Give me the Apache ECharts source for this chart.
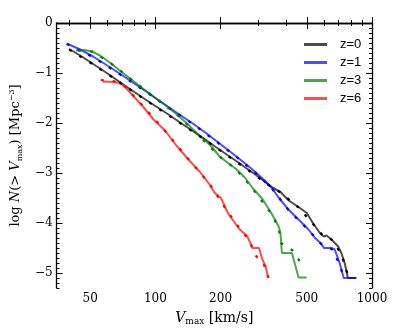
<!DOCTYPE html>
<html>
<head>
<meta charset="utf-8">
<script src="https://cdn.jsdelivr.net/npm/echarts@6/dist/echarts.min.js"></script>
<style>
html, body { margin: 0; padding: 0; background: #fff; }
#chart { width: 413px; height: 332px; }
</style>
</head>
<body>
<div id="chart"></div>
<script>
// Vmax [km/s] and log N(>Vmax)
var z0V = [40, 45, 50, 56, 63, 70, 80, 90, 100, 115, 130, 150, 170, 190, 215, 240, 270, 300, 330, 350, 378, 413, 458, 500, 537, 575, 600, 617, 650, 698, 722, 748, 774, 846]
var z0N = [-0.52, -0.65, -0.78, -0.92, -1.07, -1.21, -1.38, -1.53, -1.66, -1.83, -1.99, -2.17, -2.33, -2.48, -2.64, -2.78, -2.94, -3.08, -3.22, -3.3, -3.38, -3.55, -3.68, -3.8, -4.02, -4.2, -4.27, -4.25, -4.33, -4.47, -4.6, -4.8, -5.1, -5.1]
var z1V = [39, 45, 52, 60, 70, 80, 90, 100, 115, 130, 150, 170, 190, 215, 240, 270, 300, 330, 345, 372, 413, 458, 509, 546, 585, 600, 650, 673, 709, 740, 846]
var z1N = [-0.41, -0.53, -0.68, -0.85, -1.04, -1.21, -1.36, -1.5, -1.68, -1.84, -2.02, -2.19, -2.35, -2.53, -2.69, -2.87, -3.04, -3.21, -3.3, -3.5, -3.74, -3.93, -4.13, -4.3, -4.42, -4.5, -4.5, -4.53, -4.8, -5.1, -5.1]
var z3V = [43, 47, 51, 56, 62, 68, 75, 85, 98, 110, 125, 140, 155, 172, 184, 198, 215, 236, 260, 281, 312, 346, 371, 378, 384, 427, 458, 500]
var z3N = [-0.55, -0.54, -0.57, -0.66, -0.8, -0.94, -1.08, -1.27, -1.47, -1.63, -1.82, -2.01, -2.2, -2.37, -2.5, -2.67, -2.79, -2.92, -3.1, -3.3, -3.52, -3.83, -4.07, -4.2, -4.6, -4.6, -5.09, -5.09]
var z6V = [57, 64, 68, 72, 78, 88, 98, 109, 113, 125, 142, 160, 178, 188, 201, 216, 227, 244, 266, 281, 301, 312, 323, 332]
var z6N = [-1.17, -1.18, -1.2, -1.27, -1.43, -1.68, -1.93, -2.12, -2.2, -2.45, -2.73, -2.97, -3.23, -3.4, -3.5, -3.8, -3.93, -4.12, -4.27, -4.5, -4.5, -4.73, -4.87, -5.1]

// second (dashed) run of each redshift
var z0dV = [40, 50, 63, 80, 100, 130, 170, 215, 270, 330, 378, 458, 537, 600, 650, 722, 774]
var z0dN = [-0.53, -0.79, -1.08, -1.39, -1.67, -2.0, -2.34, -2.65, -2.95, -3.23, -3.39, -3.69, -4.03, -4.28, -4.33, -4.62, -5.05]
var z1dV = [39, 52, 70, 90, 115, 150, 190, 240, 300, 345, 413, 509, 585, 650, 709, 735]
var z1dN = [-0.42, -0.69, -1.05, -1.37, -1.69, -2.03, -2.36, -2.7, -3.05, -3.31, -3.75, -4.14, -4.43, -4.52, -4.82, -5.05]
var z3dV = [44, 51, 62, 75, 98, 125, 155, 198, 236, 281, 346, 371, 380, 430, 470, 482]
var z3dN = [-0.55, -0.57, -0.8, -1.08, -1.47, -1.82, -2.21, -2.67, -2.93, -3.31, -3.84, -4.1, -4.4, -4.55, -4.8, -4.92]
var z6dV = [56, 64, 72, 88, 109, 142, 178, 216, 244, 270, 290, 315, 333]
var z6dN = [-1.14, -1.16, -1.26, -1.67, -2.12, -2.72, -3.22, -3.78, -4.1, -4.33, -4.65, -4.8, -5.1]

var names = ['z=0', 'z=1', 'z=3', 'z=6']
var xMajorTicks = [50, 100, 200, 500, 1000]
var xMinorTicks = [40, 60, 70, 80, 90, 300, 400, 600, 700, 800, 900]
var yMajorTicks = [0, -1, -2, -3, -4, -5]

var yMinorTicks = []
for (var k = -53; k < 0; k++) {
    if (k % 10 !== 0) yMinorTicks.push(k / 10)
}

var solidColors = ['rgba(0,0,0,0.7)', 'rgba(0,0,255,0.7)', 'rgba(0,128,0,0.7)', 'rgba(255,0,0,0.7)']
var dashColors = ['#000000', '#0000ff', '#008000', '#ff0000']

function zip(v, n) {
    return v.map(function (x, i) { return [x, n[i]] })
}

var serif = 'DejaVu Serif'
var frame = { show: true, lineStyle: { color: '#000', width: 1.3 } }

function xAx(pos, ticks, len, labels) {
    return {
        type: 'log', position: pos, min: 35, max: 1000,
        axisLine: pos === 'bottom' && labels ? frame : (pos === 'top' && len > 4 ? frame : { show: false }),
        axisTick: { show: true, inside: true, length: len, customValues: ticks, lineStyle: { color: '#000', width: 1 } },
        axisLabel: labels ? {
            show: true, customValues: ticks, fontFamily: serif, fontSize: 12, color: '#000', margin: 5,
            formatter: function (v) { return String(Math.round(v)) }
        } : { show: false },
        splitLine: { show: false }
    }
}

function yAx(pos, ticks, len, labels) {
    return {
        type: 'value', position: pos, min: -5.3, max: 0,
        axisLine: len > 4 ? frame : { show: false },
        axisTick: { show: true, inside: true, length: len, customValues: ticks, lineStyle: { color: '#000', width: 1 } },
        axisLabel: labels ? {
            show: true, customValues: ticks, fontFamily: serif, fontSize: 12, color: '#000', margin: 4,
            formatter: function (v) { return v === 0 ? '0' : '\u2212' + Math.abs(v) }
        } : { show: false },
        splitLine: { show: false }
    }
}

var xAxes = [
    xAx('bottom', xMajorTicks, 6, true),
    xAx('bottom', xMinorTicks, 3, false),
    xAx('top', xMajorTicks, 6, false),
    xAx('top', xMinorTicks, 3, false)
]
xAxes[0].name = '{i|V}{s|max}{t| [km/s]}'
xAxes[0].nameLocation = 'middle'
xAxes[0].nameGap = 22
xAxes[0].nameTextStyle = {
    rich: {
        i: { fontFamily: serif, fontStyle: 'italic', fontSize: 14, color: '#000', lineHeight: 16 },
        s: { fontFamily: serif, fontSize: 9, color: '#000', lineHeight: 16, verticalAlign: 'bottom' },
        t: { fontFamily: serif, fontSize: 14, color: '#000', lineHeight: 16 }
    }
}

var yAxes = [
    yAx('left', yMajorTicks, 6, true),
    yAx('left', yMinorTicks, 3, false),
    yAx('right', yMajorTicks, 6, false),
    yAx('right', yMinorTicks, 3, false)
]
yAxes[0].name = '{t|log }{i|N}{t|(> }{i|V}{s|max}{t|) [Mpc}{p|\u22123}{t|]}'
yAxes[0].nameLocation = 'middle'
yAxes[0].nameRotate = 90
yAxes[0].nameGap = 28
yAxes[0].nameTextStyle = {
    rich: {
        i: { fontFamily: serif, fontStyle: 'italic', fontSize: 13, color: '#000', lineHeight: 16 },
        s: { fontFamily: serif, fontSize: 8, color: '#000', lineHeight: 16, verticalAlign: 'bottom' },
        p: { fontFamily: serif, fontSize: 8, color: '#000', lineHeight: 16, verticalAlign: 'top' },
        t: { fontFamily: serif, fontSize: 13, color: '#000', lineHeight: 16 }
    }
}

var solid = [[z0V, z0N], [z1V, z1N], [z3V, z3N], [z6V, z6N]]
var dashed = [[z0dV, z0dN], [z1dV, z1dN], [z3dV, z3dN], [z6dV, z6dN]]

var series = []
solid.forEach(function (s, i) {
    series.push({
        name: names[i], type: 'line', data: zip(s[0], s[1]),
        showSymbol: false, symbol: 'none', color: solidColors[i],
        lineStyle: { width: 2, color: solidColors[i] }, z: 2
    })
})
dashed.forEach(function (s, i) {
    series.push({
        name: names[i] + ' b', type: 'line', data: zip(s[0], s[1]),
        showSymbol: false, symbol: 'none', color: dashColors[i],
        lineStyle: { width: 2.2, color: dashColors[i], type: [3, 9] }, z: 3
    })
})

var myChart = echarts.init(document.getElementById('chart'))
var option = {
    animation: false,
    backgroundColor: '#fff',
    grid: { left: 51, right: 41, top: 23, bottom: 44 },
    legend: {
        data: names, orient: 'vertical', left: 299, top: 33,
        icon: 'rect', itemWidth: 23, itemHeight: 3, itemGap: 5,
        textStyle: { fontFamily: 'Liberation Sans', fontSize: 13, color: '#000', padding: [0, 0, 0, 8] }
    },
    xAxis: xAxes,
    yAxis: yAxes,
    series: series
}
myChart.setOption(option)
</script>
</body>
</html>
